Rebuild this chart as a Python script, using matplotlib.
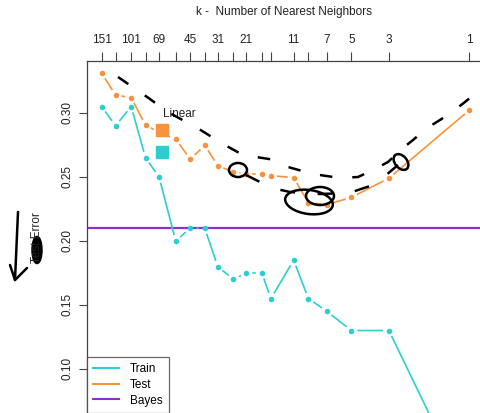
import numpy as np
import matplotlib
matplotlib.use("Agg")
import matplotlib.pyplot as plt
from matplotlib.lines import Line2D
from matplotlib.patches import Ellipse
from matplotlib.transforms import Affine2D

plt.rcParams['font.family'] = ['Liberation Sans', 'DejaVu Sans']

# data: k nearest neighbours, N = 200 training points
N = 200
k_values = [151, 125, 101, 83, 69, 55, 45, 37, 31, 25, 21, 17, 15, 11, 9, 7, 5, 3, 1]
k_labeled = [151, 101, 69, 45, 31, 21, 11, 7, 5, 3, 1]
train_err = [0.305, 0.29, 0.305, 0.265, 0.25, 0.20, 0.21, 0.21, 0.18, 0.17,
             0.175, 0.175, 0.155, 0.185, 0.155, 0.145, 0.13, 0.13, 0.0]
test_err = [0.331, 0.314, 0.312, 0.2906, 0.2848, 0.2795, 0.2638, 0.2748, 0.2588, 0.2538,
            0.2525, 0.2521, 0.2510, 0.2495, 0.2299, 0.2283, 0.2341, 0.2490, 0.3023]
bayes_err = 0.21
linear_dof = 3
linear_train = 0.2698
linear_test = 0.2865

# hand-drawn pen marks, in image pixels (x from left, y from top)
pen_upper = [(118, 77), (150, 99), (166, 111), (199, 129), (223, 144), (243, 155),
             (269, 159), (288, 167), (313, 174), (340, 178), (358, 177), (373, 170),
             (388, 162), (403, 148), (413, 140), (427, 128), (440, 120), (452, 112),
             (465, 102), (471, 97), (474, 94)]
pen_lower = [(246, 175), (262, 183), (281, 190), (290, 192), (320, 194), (349, 193),
             (370, 186), (385, 176), (398, 165)]
pen_arrow = [(18, 212), (15, 280)]
pen_head = [(10, 265), (15, 280), (27, 268)]

c_train = '#2ccfcf'
c_test = '#f9923c'
c_bayes = '#8e30d0'
fs = 8.5

W, H, DPI = 480, 413, 100
fig = plt.figure(figsize=(W / DPI, H / DPI), dpi=DPI)
ax = fig.add_axes([87 / W, (H - 415) / H, (481 - 87) / W, (415 - 61) / H])
ax.set_xscale('log')
ax.set_xlim(1.0843, 234.2)
ax.set_ylim(0.064, 0.3406)

dof = [N / k for k in k_values]


def gapped(x, y, color, gap=6):
    # lines that stop short of each point, like R's type="b"
    pts = ax.transData.transform(np.column_stack([x, y]))
    inv = ax.transData.inverted()
    xs, ys = [], []
    for p1, p2 in zip(pts[:-1], pts[1:]):
        d = p2 - p1
        L = np.hypot(*d)
        if L <= 2 * gap:
            continue
        a = inv.transform(p1 + d / L * gap)
        b = inv.transform(p2 - d / L * gap)
        xs += [a[0], b[0], np.nan]
        ys += [a[1], b[1], np.nan]
    ax.plot(xs, ys, color=color, lw=1.2, solid_capstyle='butt', zorder=3)
    ax.plot(x, y, 'o', color=color, ms=4, mec='none', zorder=4)


ax.axhline(bayes_err, color=c_bayes, lw=1.6, zorder=2)
gapped(dof, train_err, c_train)
gapped(dof, test_err, c_test)
ax.plot([linear_dof], [linear_test], 's', color=c_test, ms=8, zorder=5)
ax.plot([linear_dof], [linear_train], 's', color=c_train, ms=8, zorder=5)
ax.text(linear_dof * 1.02, 0.2992, 'Linear', fontsize=fs, color='#222222',
        ha='left', va='center')

# axes styling
for s in ['bottom', 'right']:
    ax.spines[s].set_visible(False)
for s in ['top', 'left']:
    ax.spines[s].set_color('#444444')
    ax.spines[s].set_linewidth(0.9)

ax.set_xticks([N / k for k in k_values])
ax.set_xticklabels([str(k) if k in k_labeled else '' for k in k_values])
ax.xaxis.set_minor_locator(matplotlib.ticker.NullLocator())
ax.tick_params(axis='x', top=True, bottom=False, labeltop=True, labelbottom=False,
               length=6.5, pad=4, labelsize=fs, color='#444444', labelcolor='#222222')
ax.set_yticks([0.10, 0.15, 0.20, 0.25, 0.30])
ax.set_yticklabels(['0.10', '0.15', '0.20', '0.25', '0.30'], rotation=90, va='center')
ax.tick_params(axis='y', length=6, pad=4, labelsize=fs, color='#444444',
               labelcolor='#222222')

handles = [Line2D([], [], color=c_train, lw=1.5),
           Line2D([], [], color=c_test, lw=1.5),
           Line2D([], [], color=c_bayes, lw=1.5)]
leg = ax.legend(handles, ['Train', 'Test', 'Bayes'], loc='upper left',
                bbox_to_anchor=(0, (415 - 357) / (415 - 61)), fontsize=fs,
                frameon=True, fancybox=False, borderaxespad=0, labelspacing=0.3,
                handlelength=2.2, handletextpad=0.9, borderpad=0.55)
leg.get_frame().set_edgecolor('#444444')
leg.get_frame().set_linewidth(0.9)

fig.text(284 / W, 1 - 12 / H, 'k -  Number of Nearest Neighbors', fontsize=fs,
         ha='center', va='center', color='#222222')
fig.text(37 / W, 1 - 238 / H, 'Test Error', fontsize=fs, rotation=90,
         ha='center', va='center', color='#222222')

# pen marks in pixel space
px = Affine2D().scale(1 / DPI, -1 / DPI).translate(0, H / DPI) + fig.dpi_scale_trans


def pen(points, **kw):
    xs, ys = zip(*points)
    fig.add_artist(Line2D(xs, ys, transform=px, color='black', lw=1.8,
                          solid_capstyle='round', **kw))


pen(pen_upper, ls=(0, (5, 8)))
pen(pen_lower, ls=(0, (6, 9)))
pen(pen_arrow)
pen(pen_head)
for cx, cy, w, h, ang, filled in [(238, 170, 18, 14, 0, False),
                                  (309, 202, 48, 24, 8, False),
                                  (320, 196, 28, 18, 0, False),
                                  (401, 162, 12, 18, -40, False),
                                  (37, 250, 9, 26, 0, True)]:
    fig.add_artist(Ellipse((cx, cy), w, h, angle=ang, transform=px,
                           facecolor='black' if filled else 'none',
                           edgecolor='black', lw=1.8))

fig.savefig('out.png', dpi=DPI)
